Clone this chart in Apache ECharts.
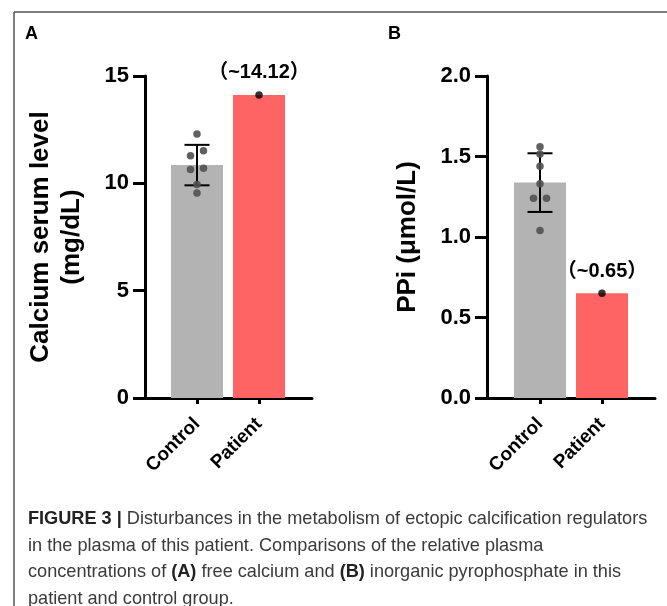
<!DOCTYPE html>
<html>
<head>
<meta charset="utf-8">
<script src="https://cdn.jsdelivr.net/npm/echarts@6/dist/echarts.min.js"></script>
<style>
html,body{margin:0;padding:0;background:#fff;}
#chart{width:667px;height:606px;}
</style>
</head>
<body>
<div id="chart"></div>
<script>
// ---------- data ----------
const categories = ['Control', 'Patient'];
const calciumControlPoints = [12.30, 11.52, 11.29, 10.70, 10.65, 9.94, 9.55];
const calciumPatientValue = 14.12;
const calciumTicks = [0, 5, 10, 15];
const ppiControlPoints = [1.56, 1.515, 1.44, 1.33, 1.24, 1.24, 1.04];
const ppiPatientValue = 0.65;
const ppiTicks = [0, 0.5, 1.0, 1.5, 2.0];
const panelLetters = ['A', 'B'];
const yAxisNames = ['Calcium serum level\n(mg/dL)', 'PPi (μmol/L)'];
const captionLines = [
  '{b|FIGURE 3 |} Disturbances in the metabolism of ectopic calcification regulators',
  'in the plasma of this patient. Comparisons of the relative plasma',
  'concentrations of {b|(A)} free calcium and {b|(B)} inorganic pyrophosphate in this',
  'patient and control group.'
];

// ---------- helpers ----------
function mean(a) { return a.reduce((s, v) => s + v, 0) / a.length; }
function sd(a) { const m = mean(a); return Math.sqrt(a.reduce((s, v) => s + (v - m) * (v - m), 0) / (a.length - 1)); }
const FONT = 'Liberation Sans, Arial, Helvetica, Noto Sans CJK SC, sans-serif';

// horizontal spread for dots that nearly coincide (relative to axis range)
function dotData(points, range) {
  const sorted = points.slice().sort((a, b) => b - a);
  const res = [];
  for (let i = 0; i < sorted.length; i++) {
    if (i + 1 < sorted.length && Math.abs(sorted[i] - sorted[i + 1]) / range < 0.02) {
      res.push({ value: [0, sorted[i]], symbolOffset: [6.5, 0] });
      res.push({ value: [0, sorted[i + 1]], symbolOffset: [-6.5, 0] });
      i++;
    } else {
      res.push({ value: [0, sorted[i]] });
    }
  }
  return res;
}

const panels = [
  { points: calciumControlPoints, patient: calciumPatientValue, ticks: calciumTicks,
    axisLeft: 145, axisRight: 312, dataLeft: 166, dataWidth: 124, decimals: 0 },
  { points: ppiControlPoints, patient: ppiPatientValue, ticks: ppiTicks,
    axisLeft: 487, axisRight: 655, dataLeft: 509, dataWidth: 124, decimals: 1 }
];

const TOP = 76, BOTTOM = 606 - 398;
const grid = [], xAxis = [], yAxis = [], series = [];

panels.forEach((p, k) => {
  const yMin = p.ticks[0], yMax = p.ticks[p.ticks.length - 1];
  const interval = p.ticks[1] - p.ticks[0];
  const gFrame = 2 * k, gData = 2 * k + 1;
  grid.push({ left: p.axisLeft, width: p.axisRight - p.axisLeft, top: TOP, bottom: BOTTOM });
  grid.push({ left: p.dataLeft, width: p.dataWidth, top: TOP, bottom: BOTTOM });

  // frame axes (full-length axis lines, y ticks and labels)
  xAxis.push({ gridIndex: gFrame, type: 'value', min: 0, max: 1, position: 'bottom',
    axisLine: { show: true, onZero: false, lineStyle: { color: '#000', width: 3 } },
    axisTick: { show: false }, axisLabel: { show: false }, splitLine: { show: false } });
  yAxis.push({ gridIndex: gFrame, type: 'value', min: yMin, max: yMax, interval: interval,
    name: yAxisNames[k], nameLocation: 'middle', nameGap: k === 0 ? 58 : 64,
    nameTextStyle: { fontFamily: FONT, fontWeight: 'bold', fontSize: 26, color: '#000', lineHeight: 31 },
    axisLine: { show: true, lineStyle: { color: '#000', width: 3 } },
    axisTick: { show: true, length: 12, lineStyle: { color: '#000', width: 3 } },
    axisLabel: { margin: 16, fontFamily: FONT, fontWeight: 'bold', fontSize: 22, color: '#000',
      formatter: v => v.toFixed(p.decimals) },
    splitLine: { show: false } });

  // data axes
  xAxis.push({ gridIndex: gData, type: 'category', data: categories,
    axisLine: { show: false },
    axisTick: { show: true, alignWithLabel: true, length: 6, lineStyle: { color: '#000', width: 3 } },
    axisLabel: { rotate: 45, margin: 23, fontFamily: FONT, fontWeight: 'bold', fontSize: 19, color: '#000' } });
  yAxis.push({ gridIndex: gData, type: 'value', min: yMin, max: yMax, interval: interval, show: false });

  const m = mean(p.points), s = sd(p.points);
  series.push({ type: 'bar', xAxisIndex: gData, yAxisIndex: gData, barWidth: 52, z: 2,
    data: [
      { value: m, itemStyle: { color: '#b3b3b3' } },
      { value: p.patient, itemStyle: { color: '#ff6464' },
        label: { show: true, position: 'top', distance: 12, formatter: '（~{c}）',
          fontFamily: FONT, fontWeight: 'bold', fontSize: 20, color: '#000' } }
    ] });
  series.push({ type: 'custom', xAxisIndex: gData, yAxisIndex: gData, z: 3,
    data: [[0, m - s, m + s]],
    renderItem: function (params, api) {
      const lo = api.coord([api.value(0), api.value(1)]);
      const hi = api.coord([api.value(0), api.value(2)]);
      const hw = 12.5, st = { stroke: '#000', lineWidth: 2 };
      return { type: 'group', children: [
        { type: 'line', shape: { x1: lo[0], y1: lo[1], x2: hi[0], y2: hi[1] }, style: st },
        { type: 'line', shape: { x1: lo[0] - hw, y1: lo[1], x2: lo[0] + hw, y2: lo[1] }, style: st },
        { type: 'line', shape: { x1: hi[0] - hw, y1: hi[1], x2: hi[0] + hw, y2: hi[1] }, style: st }
      ] };
    } });
  series.push({ type: 'scatter', xAxisIndex: gData, yAxisIndex: gData, z: 4,
    symbolSize: 7.5, itemStyle: { color: '#505050', opacity: 0.9 },
    data: dotData(p.points, yMax - yMin) });
  series.push({ type: 'scatter', xAxisIndex: gData, yAxisIndex: gData, z: 4,
    symbolSize: 7.5, itemStyle: { color: '#000' }, data: [[1, p.patient]] });
});

const graphic = [
  { type: 'line', shape: { x1: 14, y1: 12, x2: 14, y2: 606 }, style: { stroke: '#555', lineWidth: 1.5 } },
  { type: 'line', shape: { x1: 14, y1: 12, x2: 667, y2: 12 }, style: { stroke: '#555', lineWidth: 1.5 } },
  { type: 'text', x: 25, y: 43, style: { text: panelLetters[0], font: 'bold 18px ' + FONT, fill: '#000', verticalAlign: 'bottom' } },
  { type: 'text', x: 388, y: 43, style: { text: panelLetters[1], font: 'bold 18px ' + FONT, fill: '#000', verticalAlign: 'bottom' } }
];
captionLines.forEach((t, i) => {
  graphic.push({ type: 'text', x: 28, y: 519 + i * 26.5, scaleX: 0.955,
    style: { text: t, fontFamily: FONT, fontSize: 19, fill: '#3a3a3a', verticalAlign: 'middle',
      rich: { b: { fontFamily: FONT, fontSize: 19, fontWeight: 'bold', fill: '#222' } } } });
});

const chart = echarts.init(document.getElementById('chart'), null, { renderer: 'canvas' });
chart.setOption({ animation: false, backgroundColor: '#fff', grid, xAxis, yAxis, series, graphic });
</script>
</body>
</html>
